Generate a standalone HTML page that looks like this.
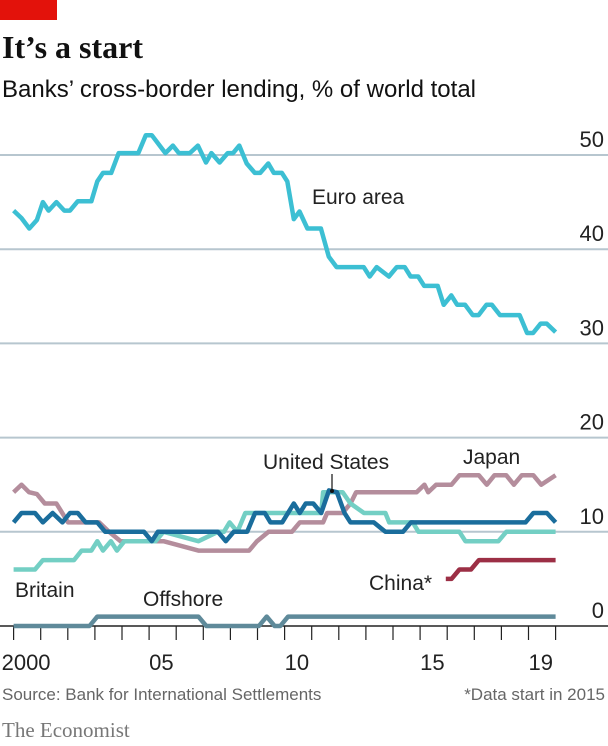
<!DOCTYPE html>
<html><head><meta charset="utf-8">
<style>
body{margin:0;background:#fff;width:608px;height:746px;overflow:hidden;font-family:"Liberation Sans",sans-serif;}
svg{display:block}
</style></head>
<body>
<svg id="chart" width="608" height="746" xmlns="http://www.w3.org/2000/svg">
<rect x="0" y="0" width="57" height="20" fill="#e3120b"/>
<text x="2" y="58" font-family="Liberation Serif, serif" font-weight="bold" font-size="32" fill="#111">It’s a start</text>
<text x="2" y="97" font-size="24" fill="#111">Banks’ cross-border lending, % of world total</text>
<g id="grid"></g>
<g id="xaxis"></g>
<g id="series"></g>
<text x="312" y="204" font-size="21" fill="#222">Euro area</text>
<text x="263" y="469" font-size="21" fill="#222">United States</text>
<line x1="332" y1="474" x2="332" y2="491" stroke="#111" stroke-width="1.2"/>
<circle cx="332" cy="491" r="2" fill="#111"/>
<text x="463" y="464" font-size="21" fill="#222">Japan</text>
<text x="15" y="597" font-size="21" fill="#222">Britain</text>
<text x="143" y="606" font-size="21" fill="#222">Offshore</text>
<text x="369" y="590" font-size="21" fill="#222">China*</text>
<text x="2" y="700" font-size="17" fill="#666">Source: Bank for International Settlements</text>
<text x="605" y="700" text-anchor="end" font-size="17" fill="#666">*Data start in 2015</text>
<text x="2" y="737" font-family="Liberation Serif, serif" font-size="21" fill="#777">The Economist</text>
</svg>
<script>
const yTicks=[0,10,20,30,40,50];
const xTickYears=[2000,2001,2002,2003,2004,2005,2006,2007,2008,2009,2010,2011,2012,2013,2014,2015,2016,2017,2018,2019,2020];
const xLabelYears=[2000,2005,2010,2015,2019];
const xLabels=["2000","05","10","15","19"];

const euroT=[2000,2000.29,2000.58,2000.86,2001.08,2001.29,2001.58,2001.87,2002.08,2002.37,2002.87,2003.09,2003.3,2003.6,2003.88,2004.6,2004.88,2005.1,2005.6,2005.88,2006.1,2006.5,2006.8,2007.1,2007.3,2007.6,2007.9,2008.1,2008.33,2008.6,2008.9,2009.1,2009.4,2009.6,2009.9,2010.1,2010.34,2010.55,2010.84,2011.34,2011.63,2011.92,2012.92,2013.14,2013.4,2013.85,2014.14,2014.43,2014.65,2014.93,2015.15,2015.65,2015.87,2016.15,2016.37,2016.66,2016.94,2017.16,2017.45,2017.65,2017.95,2018.67,2018.95,2019.17,2019.45,2019.67,2020];
const euroV=[44.1,43.3,42.2,43.1,45,44.1,45,44.1,44.1,45.1,45.1,47.2,48.1,48.1,50.2,50.2,52.1,52.1,50.2,51,50.2,50.2,51,49.2,50.2,49.2,50.2,50.2,51,49.1,48.1,48.1,49.1,48.1,48.1,47.2,43.2,44,42.2,42.2,39.2,38.1,38.1,37.1,38.1,37.1,38.1,38.1,37.1,37.1,36.1,36.1,34.1,35.1,34.1,34.1,33,33,34.1,34.1,33,33,31.1,31.1,32.1,32.1,31.2];

const japanT=[2000,2000.29,2000.57,2000.86,2001.15,2001.58,2002.01,2003.16,2003.52,2003.95,2005.53,2006.82,2008.69,2008.98,2009.41,2010.27,2010.56,2011.42,2011.57,2012.14,2012.43,2012.64,2014.87,2015.16,2015.3,2015.59,2016.16,2016.45,2017.17,2017.46,2017.74,2018.18,2018.46,2018.75,2019.18,2019.47,2020];
const japanV=[14.2,15,14.2,14,13,13,11,11,10,9,9,8,8,9,10,10,11,11,12,12,13,14.2,14.2,15,14.2,15,15,16,16,15,16,16,15,16,16,15,16];

const usT=[2000,2000.29,2000.79,2001.08,2001.44,2001.8,2002.08,2002.37,2002.66,2003.09,2003.38,2004.81,2005.1,2005.32,2007.54,2007.83,2008.12,2008.62,2008.91,2009.27,2009.48,2009.91,2010.34,2010.56,2010.78,2011.06,2011.35,2011.64,2011.93,2012.21,2012.43,2013.29,2013.72,2014.37,2014.66,2018.89,2019.18,2019.68,2020];
const usV=[11,12,12,11,12,11,12,12,11,11,10,10,9,10,10,9,10,10,12,12,11,11,13,12,13,13,12,14.4,14.2,12,11,11,10,10,11,11,12,12,11];

const britainT=[2000,2000.79,2001.08,2002.23,2002.51,2002.87,2003.09,2003.3,2003.59,2003.81,2004.09,2005.24,2005.53,2006.82,2007.54,2007.76,2007.97,2008.26,2008.55,2011.35,2011.42,2012.14,2012.43,2012.93,2013.72,2013.86,2014.73,2014.94,2016.45,2016.67,2017.89,2018.18,2020];
const britainV=[6,6,7,7,8,8,9,8,9,8,9,9,10,9,10,10,11,10,12,12,14.2,14.2,13,12,12,11,11,10,10,9,9,10,10];

const chinaT=[2015.95,2016.16,2016.45,2016.88,2017.17,2020];
const chinaV=[5,5,6,6,7,7];

const offT=[2000,2002.8,2003.09,2006.82,2007.11,2009.05,2009.34,2009.63,2009.84,2010.13,2020];
const offV=[0,0,1,1,0,0,1,0,0,1,1];

const NS="http://www.w3.org/2000/svg";
function xs(t){return 13.6+(t-2000)*27.1;}
function ys(v){return 626-v*9.42;}
function mk(tag,attrs,parent){const e=document.createElementNS(NS,tag);for(const k in attrs)e.setAttribute(k,attrs[k]);parent.appendChild(e);return e;}

const grid=document.getElementById('grid');
yTicks.forEach(v=>{
  const l=mk('line',{x1:0,x2:608,y1:ys(v),y2:ys(v),stroke:v===0?'#222':'#b7c6cf','stroke-width':v===0?1.5:2},grid);
  
  
  const t=mk('text',{x:604,y:ys(v)-8,'text-anchor':'end','font-size':22,fill:'#222'},grid);
  t.textContent=String(v);
  
  
});
const xa=document.getElementById('xaxis');
xTickYears.forEach(y=>{
  const l=mk('line',{x1:xs(y),x2:xs(y),y1:626,y2:640,stroke:'#222','stroke-width':1.2},xa);
  
  
});
xLabelYears.forEach((y,i)=>{
  const t=mk('text',{x:xs(y)-(i===0?12:0),y:670,'font-size':22,fill:'#222'},xa);
  t.textContent=xLabels[i];
  
  
});
const sg=document.getElementById('series');
function line(T,V,color,name){
  const d=T.map((t,i)=>(i?'L':'M')+xs(t).toFixed(1)+' '+ys(V[i]).toFixed(1)).join(' ');
  const p=mk('path',{d:d,fill:'none',stroke:color,'stroke-width':4.5,'stroke-linejoin':'round'},sg);
  
  
}
line(offT,offV,'#5f8a9a','offshore-line');
line(japanT,japanV,'#b48d9c','japan-line');
line(britainT,britainV,'#73cfc4','britain-line');
line(usT,usV,'#1a6d9c','united-states-line');
line(chinaT,chinaV,'#9c2f45','china-line');
line(euroT,euroV,'#3cbfd3','euro-area-line');
</script>
</body></html>
